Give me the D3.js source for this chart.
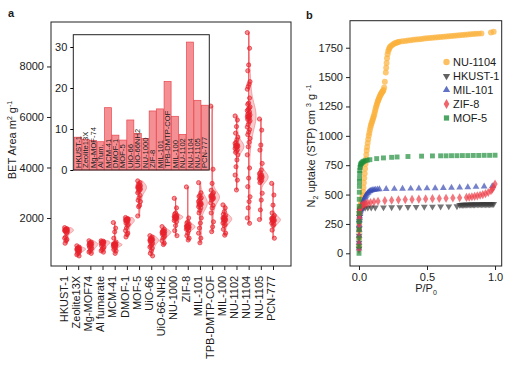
<!DOCTYPE html>
<html><head><meta charset="utf-8">
<script src="https://cdn.jsdelivr.net/npm/d3@7"></script>
<style>
body{margin:0;background:#fff}
svg{display:block}
text{font-family:"Liberation Sans",Arial,sans-serif;fill:#1a1a1a}
</style>
</head><body>
<svg id="chart" width="514" height="365"></svg>
<script>
// ---------- Panel a data ----------
const categories = ["HKUST-1","Zeolite13X","Mg-MOF74","Al fumarate","MCM-41","DMOF-1","MOF-5","UiO-66","UiO-66-NH2","NU-1000","ZIF-8","MIL-101","TPB-DMTP-COF","MIL-100","NU-1102","NU-1104","NU-1105","PCN-777"];
const betHKUST1 = [1620,1580,1560,1550,1540,1530,1520,1510,1500,1490,1470,1450,1400,1250,1200,1150,1100,1000];
const betZeolite13X = [900,850,820,800,790,780,770,760,740,720,700,680,650,600,550,500];
const betMgMOF74 = [1100,1050,1020,1000,980,960,950,930,900,880,850,800,750,700,650,600];
const betAlFumarate = [1100,1080,1060,1050,1040,1030,1020,1000,980,950,900,850,800,750,700,650];
const betMCM41 = [1820,1600,1450,1200,1050,1000,980,970,960,950,940,930,920,900,880,850,800,750,700,600];
const betDMOF1 = [2020,1980,1960,1950,1940,1930,1920,1900,1880,1850,1800,1750,1700,1600,1500,1400,1350,1250];
const betMOF5 = [3470,3400,3350,3300,3280,3260,3240,3220,3200,3180,3160,3140,3100,3050,3000,2900,2800,2700,2650,2500,2450,2080];
const betUiO66 = [1300,1250,1200,1170,1150,1140,1130,1120,1100,1080,1050,1000,950,900,850,800,700,600,500];
const betUiO66NH2 = [1660,1550,1500,1480,1460,1450,1440,1420,1400,1380,1350,1300,1250,1200,1100,1000,950];
const betNU1000 = [2780,2400,2200,2150,2100,2080,2060,2050,2040,2030,2020,2000,1980,1950,1900,1850,1700,1500,1300];
const betZIF8 = [3230,2000,1850,1800,1750,1720,1700,1680,1660,1650,1640,1620,1600,1580,1550,1500,1400,1300,1200,1130];
const betMIL101 = [3400,3000,2900,2850,2800,2750,2700,2650,2600,2580,2560,2540,2520,2500,2450,2400,2300,2200,2000,1800,1600,1400,1200,1020];
const betTPB = [6430,3930,3370,3100,3000,2950,2900,2870,2850,2830,2800,2780,2750,2700,2600,2500,2400,2200,1850,1650,1460];
const betMIL100 = [2520,2400,2250,2150,2100,2050,2020,2000,1980,1960,1940,1920,1900,1850,1800,1750,1700,1550,1400,1320];
const betNU1102 = [6040,5880,5620,5360,5200,5100,5000,4950,4900,4880,4860,4840,4820,4800,4750,4700,4650,4600,4500,4300,4030,3700,3500,3110];
const betNU1104 = [9340,8720,8060,7830,7400,7300,7200,7100,6750,6550,6500,6400,6350,6300,6250,6200,6150,6100,6080,6050,6020,6000,5980,5950,5900,5850,5800,5700,5600,5500,5400,5300,5150,5000,4820,4500,3980,3580,3240,2840,2650,2400,2000,1790];
const betNU1105 = [5920,5480,4890,4690,4160,3900,3800,3750,3700,3680,3650,3620,3600,3580,3550,3500,3450,3400,2980,2710,2320,1940];
const betPCN777 = [3370,2910,2510,2200,2100,2050,2000,1980,1960,1940,1920,1900,1880,1850,1800,1750,1700,1520,1200];
const betSeries = [betHKUST1,betZeolite13X,betMgMOF74,betAlFumarate,betMCM41,betDMOF1,betMOF5,betUiO66,betUiO66NH2,betNU1000,betZIF8,betMIL101,betTPB,betMIL100,betNU1102,betNU1104,betNU1105,betPCN777];
const betTicks = [2000,4000,6000,8000];

// inset bars
const insetLabels = ["HKUST-1","Zeolite13X","Mg-MOF-74","Al fum.","MCM-41","DMOF-1","MOF-5","UiO-66","UiO-66NH2","NU-1000","ZIF-8","MIL-101","TPB-DMTP-COF","MIL-100","NU-1102","NU-1104","NU-1105","PCN-777"];
const insetValues = [8.0,7.5,7.2,6.9,15.2,8.5,7.3,12.2,8.9,7.7,14.4,14.9,21.6,13.1,8.7,31.2,17.0,15.8];
const insetTicks = [0,10,20,30];

// ---------- Panel b data ----------
const seriesNames = ["NU-1104","HKUST-1","MIL-101","ZIF-8","MOF-5"];
const nu1104P = [0.0005,0.001,0.0015,0.002,0.003,0.004,0.005,0.007,0.009,0.012,0.015,0.018,0.021,0.024,0.027,0.03,0.033,0.036,0.039,0.042,0.045,0.048,0.051,0.054,0.057,0.06,0.064,0.068,0.072,0.076,0.08,0.084,0.088,0.092,0.096,0.1,0.104,0.108,0.112,0.116,0.12,0.124,0.128,0.132,0.136,0.14,0.144,0.148,0.152,0.156,0.16,0.164,0.168,0.172,0.176,0.18,0.185,0.19,0.197,0.2,0.203,0.206,0.21,0.215,0.22,0.225,0.23,0.24,0.25,0.26,0.27,0.28,0.29,0.3,0.32,0.34,0.36,0.38,0.4,0.42,0.44,0.46,0.48,0.5,0.52,0.54,0.56,0.58,0.6,0.62,0.64,0.66,0.68,0.7,0.72,0.74,0.76,0.78,0.8,0.82,0.84,0.86,0.88,0.9,0.97,0.99];
const nu1104V = [60,130,190,240,290,330,355,380,395,410,420,435,450,470,495,525,560,600,640,680,720,760,800,840,875,905,940,970,1000,1025,1050,1070,1090,1105,1120,1135,1150,1165,1180,1200,1220,1240,1255,1270,1285,1298,1310,1322,1333,1343,1352,1360,1368,1375,1382,1390,1412,1460,1540,1580,1620,1660,1695,1720,1738,1750,1760,1770,1778,1785,1790,1795,1799,1802,1805,1808,1811,1814,1817,1820,1822,1825,1828,1830,1832,1835,1837,1840,1842,1844,1846,1848,1850,1852,1854,1856,1858,1860,1862,1864,1866,1868,1870,1872,1880,1886];
const hkustP = [0.0003,0.0006,0.001,0.0015,0.002,0.003,0.004,0.006,0.008,0.011,0.015,0.02,0.03,0.045,0.065,0.09,0.12,0.18,0.24,0.3,0.36,0.42,0.48,0.54,0.6,0.66,0.72,0.74,0.75,0.76,0.77,0.78,0.79,0.8,0.81,0.82,0.83,0.84,0.85,0.86,0.87,0.88,0.89,0.9,0.91,0.92,0.93,0.94,0.95,0.96,0.97,0.98,0.99];
const hkustV = [40,90,150,210,260,310,340,360,370,375,380,383,386,388,389,390,390,391,392,393,394,395,396,397,398,399,401,412,412,413,413,413,414,414,414,415,415,415,415,416,416,416,416,417,417,417,417,418,418,418,418,419,420];
const mil101P = [0.0003,0.0006,0.001,0.0015,0.002,0.003,0.004,0.005,0.007,0.009,0.012,0.015,0.018,0.021,0.025,0.03,0.035,0.04,0.045,0.05,0.056,0.062,0.068,0.075,0.082,0.09,0.1,0.11,0.12,0.135,0.15,0.2,0.26,0.32,0.38,0.44,0.5,0.56,0.62,0.68,0.74,0.8,0.86,0.92,0.98];
const mil101V = [40,90,150,200,240,280,300,315,335,350,365,380,395,410,425,440,455,468,480,490,500,510,518,525,530,535,538,540,542,544,546,548,549,550,551,552,553,554,556,558,560,563,566,569,572];
const zif8P = [0.0003,0.0006,0.001,0.0015,0.002,0.003,0.004,0.005,0.007,0.01,0.014,0.02,0.028,0.038,0.05,0.065,0.085,0.11,0.14,0.19,0.24,0.29,0.34,0.39,0.44,0.49,0.54,0.59,0.64,0.69,0.74,0.79,0.81,0.83,0.85,0.87,0.89,0.91,0.93,0.95,0.97,0.98,0.99,1.0];
const zif8V = [30,80,140,200,250,300,330,350,370,385,395,405,412,418,423,428,433,438,443,448,452,455,457,459,461,463,465,467,469,471,473,476,478,481,485,489,494,500,508,518,532,545,565,590];
const mof5P = [0.0002,0.0004,0.0006,0.0008,0.001,0.0013,0.0016,0.002,0.0025,0.003,0.0035,0.004,0.005,0.006,0.008,0.01,0.013,0.017,0.022,0.028,0.035,0.045,0.06,0.08,0.13,0.18,0.24,0.28,0.36,0.46,0.54,0.6,0.64,0.68,0.72,0.76,0.8,0.84,0.88,0.92,0.96,1.0];
const mof5V = [0,60,130,200,270,340,400,460,520,570,610,640,680,705,730,745,758,765,772,778,783,788,792,797,806,812,817,820,824,827,829,830,830,831,831,832,832,833,833,834,834,835];
const xTicksB = [0,0.5,1.0];
const yTicksB = [0,250,500,750,1000,1250,1500,1750];

// ---------- drawing ----------
const svg = d3.select("#chart");
const RED = "#e8222c";
const FONT = '"Liberation Sans",Arial,sans-serif';

// Panel a scales
const xA = d3.scalePoint().domain(categories).range([66, 273]);
const yA = d3.scaleLinear().domain([100, 9760]).range([266, 22]);
const gA = svg.append("g");

function kde(vals){
  const s = vals.slice().sort((a,b)=>a-b);
  const n = s.length;
  const sd = d3.deviation(s);
  const iqr = d3.quantile(s,0.75)-d3.quantile(s,0.25);
  const sig = Math.min(sd, iqr/1.34) || sd;
  const h = 0.9*sig*Math.pow(n,-0.2);
  const lo = s[0], hi = s[n-1];
  return d3.range(0,61).map(i=>{
    const y = lo+(hi-lo)*i/60;
    return [y, d3.sum(s, v=>Math.exp(-0.5*((y-v)/h)**2))];
  });
}
categories.forEach((c,ci)=>{
  const vals = betSeries[ci];
  const cx = xA(c);
  const d = kde(vals);
  const dmax = d3.max(d, e=>e[1]);
  const w = d3.scaleLinear().domain([0,dmax]).range([0,7.5]);
  const area = d3.area().y(e=>yA(e[0])).x0(cx).x1(e=>cx+w(e[1])).curve(d3.curveBasis);
  gA.append("path").attr("d", area(d))
    .attr("fill","#f6b3b6").attr("fill-opacity",0.7)
    .attr("stroke","#ef7a80").attr("stroke-width",0.6);
  gA.append("line").attr("x1",cx).attr("x2",cx)
    .attr("y1",yA(d3.min(vals))).attr("y2",yA(d3.max(vals)))
    .attr("stroke","#ee5a60").attr("stroke-width",1);
  gA.selectAll(null).data(vals).enter().append("circle")
    .attr("cx",(v,i)=>cx+(((i*5)%7)-3)*0.45)
    .attr("cy",v=>yA(v)).attr("r",2.1)
    .attr("fill",RED).attr("fill-opacity",0.5)
    .attr("stroke",RED).attr("stroke-width",0.8).attr("stroke-opacity",0.85);
});

gA.append("rect").attr("x",51).attr("y",22).attr("width",240).attr("height",244)
  .attr("fill","none").attr("stroke","#222").attr("stroke-width",1);
const axLA = gA.append("g").attr("transform","translate(51,0)")
  .call(d3.axisLeft(yA).tickValues(betTicks).tickFormat(d3.format("d")).tickSize(4).tickPadding(3));
const axBA = gA.append("g").attr("transform","translate(0,266)")
  .call(d3.axisBottom(xA).tickSize(4).tickPadding(3));
axBA.selectAll("text").attr("transform","rotate(-90)").attr("text-anchor","end")
  .attr("dx","-0.35em").attr("dy","-0.15em").attr("x",-6).attr("y",0).style("dominant-baseline","middle");
[axLA, axBA].forEach(a=>{
  a.select(".domain").remove();
  a.selectAll("text").style("font-size","11px").style("font-family",FONT);
  a.selectAll("line").attr("stroke","#222");
});

const tA = svg.append("text").attr("transform","translate(16,140) rotate(-90)")
  .attr("text-anchor","middle").style("font-size","11px");
tA.append("tspan").text("BET Area m");
tA.append("tspan").text("2").attr("dy",-4).style("font-size","7px");
tA.append("tspan").text(" g").attr("dy",4);
tA.append("tspan").text("-1").attr("dy",-4).style("font-size","7px");

// inset
const xIn = d3.scaleBand().domain(insetLabels).range([74.5, 208.5]).paddingInner(0.06).paddingOuter(0.02);
const yIn = d3.scaleLinear().domain([0,33]).range([170, 34.7]);
const gI = svg.append("g");
gI.append("rect").attr("x",73.3).attr("y",34.7).attr("width",136).attr("height",135.3).attr("fill","#fff");
gI.selectAll("rect.bar").data(insetValues).enter().append("rect").attr("class","bar")
  .attr("x",(v,i)=>xIn(insetLabels[i])).attr("width",xIn.bandwidth())
  .attr("y",v=>yIn(v)).attr("height",v=>170-yIn(v))
  .attr("fill","#f27b80").attr("fill-opacity",0.85).attr("stroke","#e8464d").attr("stroke-width",0.7);
gI.selectAll("text.bl").data(insetLabels).enter().append("text").attr("class","bl")
  .attr("transform",l=>`translate(${xIn(l)+xIn.bandwidth()/2+2.6},168) rotate(-90)`)
  .attr("text-anchor","start").style("font-size","7.6px").style("fill","#1a1a1a").text(l=>l);
gI.append("rect").attr("x",73.3).attr("y",34.7).attr("width",136).attr("height",135.3)
  .attr("fill","none").attr("stroke","#222").attr("stroke-width",1);
const axIn = gI.append("g").attr("transform","translate(73.3,0)")
  .call(d3.axisLeft(yIn).tickValues(insetTicks).tickSize(3).tickPadding(3));
axIn.select(".domain").remove();
axIn.selectAll("text").style("font-size","11px").style("font-family",FONT);

// Panel b
const xB = d3.scaleLinear().domain([-0.066,1.049]).range([350,501.7]);
const yB = d3.scaleLinear().domain([-108,1980]).range([266,20.7]);
const gB = svg.append("g");
const sym = {
  "NU-1104": {type:d3.symbolCircle, rot:0, color:"#fbb03b", size:28},
  "HKUST-1": {type:d3.symbolTriangle, rot:180, color:"#3b3b3b", size:20},
  "MIL-101": {type:d3.symbolTriangle, rot:0, color:"#3a4db5", size:20},
  "ZIF-8": {type:d3.symbolDiamond, rot:0, color:"#ec3d47", size:24},
  "MOF-5": {type:d3.symbolSquare, rot:0, color:"#1f8e3c", size:24}
};
const ps = [nu1104P,hkustP,mil101P,zif8P,mof5P];
const vs = [nu1104V,hkustV,mil101V,zif8V,mof5V];
seriesNames.forEach((name,si)=>{
  const s = sym[name];
  const path = d3.symbol().type(s.type).size(s.size)();
  gB.selectAll(null).data(ps[si]).enter().append("path")
    .attr("d",path)
    .attr("transform",(p,i)=>`translate(${xB(p)},${yB(vs[si][i])}) rotate(${s.rot})`)
    .attr("fill",s.color).attr("fill-opacity",0.7);
});
gB.append("rect").attr("x",350).attr("y",20.7).attr("width",151.7).attr("height",245.3)
  .attr("fill","none").attr("stroke","#222").attr("stroke-width",1);
const axLB = gB.append("g").attr("transform","translate(350,0)")
  .call(d3.axisLeft(yB).tickValues(yTicksB).tickFormat(d3.format("d")).tickSize(4).tickPadding(3));
const axBB = gB.append("g").attr("transform","translate(0,266)")
  .call(d3.axisBottom(xB).tickValues(xTicksB).tickFormat(d3.format(".1f")).tickSize(4).tickPadding(3));
[axLB, axBB].forEach(a=>{
  a.select(".domain").remove();
  a.selectAll("text").style("font-size","11px").style("font-family",FONT);
  a.selectAll("line").attr("stroke","#222");
});
seriesNames.forEach((name,i)=>{
  const s = sym[name];
  const y = 62 + i*14;
  gB.append("path").attr("d",d3.symbol().type(s.type).size(s.size*1.15)())
    .attr("transform",`translate(446.5,${y}) rotate(${s.rot})`).attr("fill",s.color).attr("fill-opacity",0.8);
  gB.append("text").attr("x",453).attr("y",y+4).style("font-size","11px").text(name);
});
const tBy = svg.append("text").attr("transform","translate(315,146) rotate(-90)")
  .attr("text-anchor","middle").style("font-size","11px");
tBy.append("tspan").text("N");
tBy.append("tspan").text("2").attr("dy",3).style("font-size","7px");
tBy.append("tspan").text(" uptake (STP) cm ").attr("dy",-3);
tBy.append("tspan").text("3").attr("dy",-4).style("font-size","7px");
tBy.append("tspan").text(" g ").attr("dy",4);
tBy.append("tspan").text("-1").attr("dy",-4).style("font-size","7px");
const tBx = svg.append("text").attr("x",426).attr("y",292).attr("text-anchor","middle").style("font-size","11px");
tBx.append("tspan").text("P/P");
tBx.append("tspan").text("0").attr("dy",3).style("font-size","7px");

svg.append("text").attr("x",8).attr("y",17).style("font-size","11px").style("font-weight","bold").text("a");
svg.append("text").attr("x",306).attr("y",19).style("font-size","11px").style("font-weight","bold").text("b");
</script>
</body></html>
